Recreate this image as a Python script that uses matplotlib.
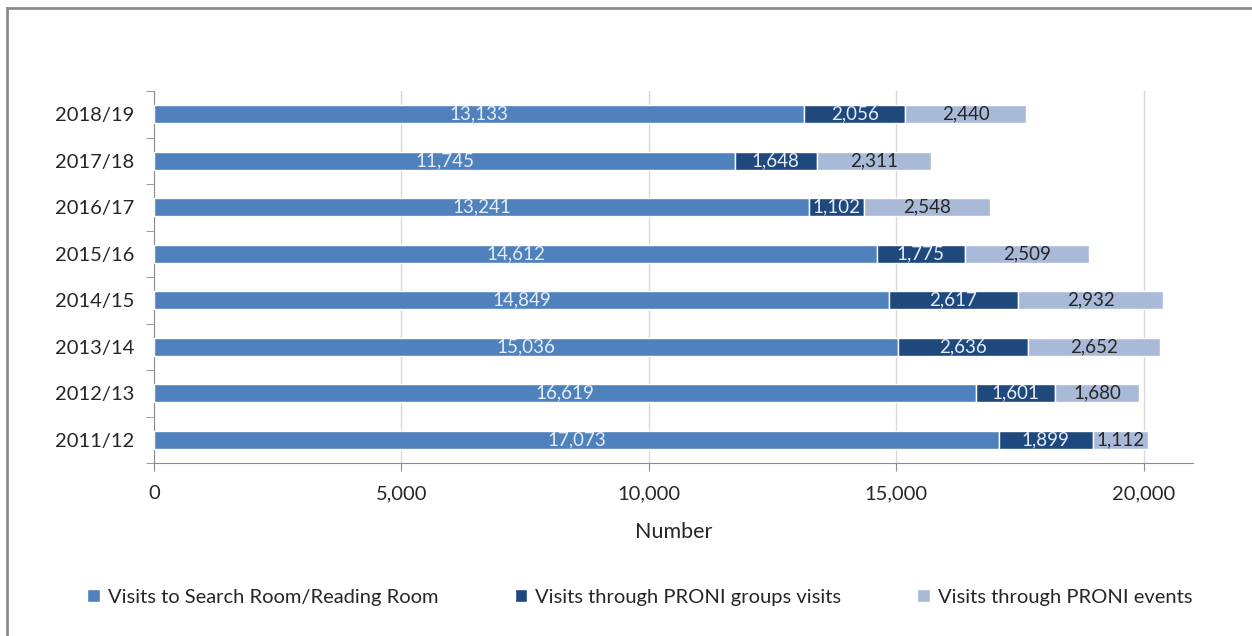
import matplotlib.pyplot as plt
from matplotlib.lines import Line2D
from matplotlib.ticker import FuncFormatter, MultipleLocator

years = ['2011/12', '2012/13', '2013/14', '2014/15', '2015/16', '2016/17', '2017/18', '2018/19']
reading_room = [17073, 16619, 15036, 14849, 14612, 13241, 11745, 13133]
group_visits = [1899, 1601, 2636, 2617, 1775, 1102, 1648, 2056]
events = [1112, 1680, 2652, 2932, 2509, 2548, 2311, 2440]
series_names = ['Visits to Search Room/Reading Room',
                'Visits through PRONI groups visits',
                'Visits through PRONI events']
colors = ['#4F81BD', '#1F497D', '#A9BAD9']
label_colors = ['#E4ECF5', '#E4ECF5', '#262626']

plt.rcParams['font.family'] = ['Lato', 'DejaVu Sans']

fig = plt.figure(figsize=(12.52, 6.36), dpi=100)
ax = fig.add_axes([154 / 1252, 1 - 463 / 636, (1193 - 154) / 1252, (463 - 91) / 636])

# outer frame (top and left edges visible)
fig.add_artist(Line2D([7 / 1252, 7 / 1252], [0, 1 - 8 / 636], transform=fig.transFigure,
                      color='#8C8C8C', lw=2))
fig.add_artist(Line2D([7 / 1252, 1], [1 - 8 / 636, 1 - 8 / 636], transform=fig.transFigure,
                      color='#8C8C8C', lw=2))

y = list(range(len(years)))
left = [0] * len(years)
for vals, c, lc, name in zip([reading_room, group_visits, events], colors, label_colors, series_names):
    bars = ax.barh(y, vals, left=left, height=0.38, color=c, edgecolor='white', linewidth=1,
                   label=name, zorder=3)
    for b, v in zip(bars, vals):
        ax.text(b.get_x() + b.get_width() / 2, b.get_y() + b.get_height() / 2, f'{v:,}',
                ha='center', va='center', color=lc, fontsize=13.5, zorder=4)
    left = [l + v for l, v in zip(left, vals)]

ax.set_xlim(0, 21000)
ax.set_ylim(-0.5, len(years) - 0.5)
ax.xaxis.set_major_locator(MultipleLocator(5000))
ax.xaxis.set_major_formatter(FuncFormatter(lambda v, p: f'{int(v):,}'))
ax.set_yticks(y)
ax.set_yticklabels(years)
ax.set_yticks([i - 0.5 for i in range(len(years) + 1)], minor=True)
ax.tick_params(axis='y', which='major', length=0, pad=14, labelsize=14.5, labelcolor='#262626')
ax.tick_params(axis='y', which='minor', length=6, color='#8C8C8C')
ax.tick_params(axis='x', length=6, color='#8C8C8C', labelsize=14.5, labelcolor='#262626', pad=10)
ax.grid(axis='x', color='#D9D9D9', lw=1, zorder=0)
for s in ['top', 'right']:
    ax.spines[s].set_visible(False)
for s in ['left', 'bottom']:
    ax.spines[s].set_color('#8C8C8C')
ax.set_xlabel('Number', fontsize=15.5, color='#262626', labelpad=14)

fig.legend(loc='center', bbox_to_anchor=(0.511, 1 - 597 / 636), ncol=3, frameon=False,
           fontsize=14.5, handlelength=0.6, handleheight=0.6, columnspacing=3.8,
           handletextpad=0.4, labelcolor='#262626')

fig.savefig('out.png', dpi=100, facecolor='white')
